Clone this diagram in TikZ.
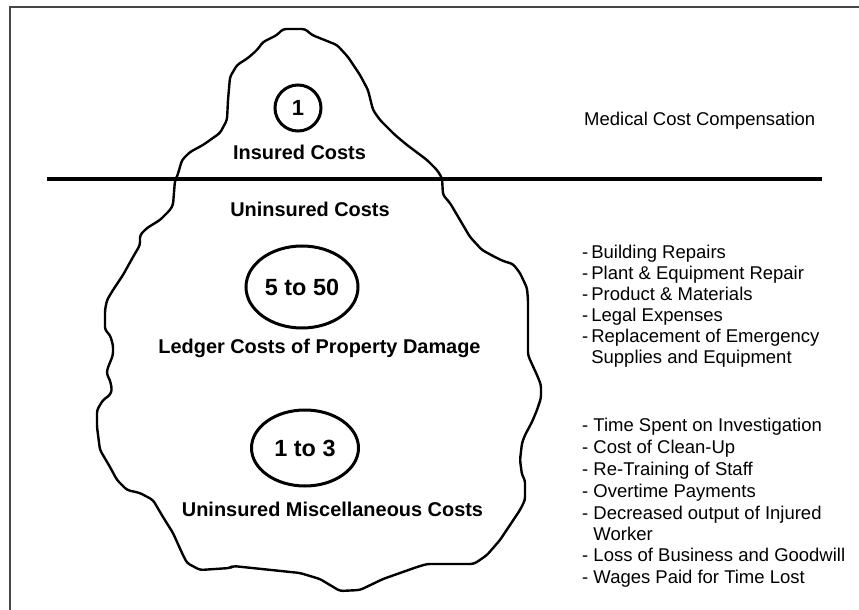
\documentclass[tikz,border=0pt]{standalone}
\usepackage{fontspec}
\setmainfont{Liberation Sans}
\usetikzlibrary{shapes.geometric}

\tikzset{
  frameline/.style={draw=black!72, line width=1.4bp},
  divider/.style={draw=black, line width=3.4bp},
  berg/.style={draw=black, line width=2.4bp, line join=round, line cap=round, rounded corners=3bp},
  ratio/.style={draw=black, line width=3bp, ellipse, inner sep=0pt,
    font=\fontsize{23.5}{26}\selectfont\bfseries},
  heading/.style={anchor=base, inner sep=0pt, font=\fontsize{20}{23}\selectfont\bfseries},
  item/.style={anchor=base west, inner sep=0pt, font=\fontsize{18.55}{21}\selectfont},
}

\begin{document}
\begin{tikzpicture}[x=1bp, y=-1bp]
  \useasboundingbox (0,0) rectangle (859,610);
  \fill[white] (0,0) rectangle (859,610);

  % partial frame: top and left edges
  \draw[frameline] (10,610) -- (10,7) -- (859,7);

  % iceberg outline
  \draw[berg]
    (283,29) -- (305,29) -- (312,35) -- (337,45) -- (348,57) -- (360,75) -- (368,90)
    -- (373,110) -- (380,120) -- (395,135) -- (407,145) -- (427,160) -- (437,170)
    -- (442,178) -- (443,195) -- (450,203) -- (460,220) -- (470,237) -- (482,250)
    -- (493,256) -- (503,261) -- (513,264) -- (520,273) -- (527,288) -- (528,300)
    -- (528,355) -- (531,362) -- (537,375) -- (541,385) -- (541,398) -- (537,410)
    -- (532,422) -- (525,435) -- (522,443) -- (520,460) -- (522,475) -- (525,480)
    -- (525,500) -- (520,510) -- (510,525) -- (500,540) -- (487,555) -- (477,562)
    -- (473,564) -- (427,564) -- (417,567) -- (400,573) -- (383,579) -- (360,590)
    -- (340,591) -- (320,579) -- (300,573) -- (233,566) -- (230,568) -- (200,570)
    -- (187,563) -- (182,553) -- (173,533) -- (163,517) -- (153,500) -- (140,493)
    -- (127,490) -- (117,480) -- (110,467) -- (100,450) -- (97,427) -- (97,410)
    -- (103,400) -- (110,395) -- (112,390) -- (110,380) -- (107,375) -- (107,370)
    -- (113,355) -- (113,345) -- (110,335) -- (105,330) -- (105,310) -- (107,300)
    -- (113,290) -- (123,275) -- (133,257) -- (140,245) -- (140,235) -- (147,228)
    -- (160,220) -- (170,210) -- (173,205) -- (175,180) -- (177,177) -- (182,160)
    -- (190,152) -- (203,145) -- (220,133) -- (227,120) -- (228,100) -- (230,77)
    -- (237,65) -- (248,58) -- (257,50) -- (263,42) -- (277,35) -- cycle;

  % waterline
  \coordinate (wl west) at (47,179);
  \coordinate (wl east) at (822,179);
  \draw[divider] (wl west) -- (wl east);

  % ratios
  \node[ratio, circle, minimum size=46bp, font=\fontsize{22}{24}\selectfont\bfseries]
    (insured ratio) at (298,108) {1};
  \node[ratio, minimum width=112bp, minimum height=82bp] (ledger ratio) at (302,287) {5 to 50};
  \node[ratio, minimum width=107bp, minimum height=76bp] (misc ratio) at (305,448) {1 to 3};

  % headings
  \node[heading] (insured) at (299.5,159.5) {Insured Costs};
  \node[heading] (uninsured) at (310,216.5) {Uninsured Costs};
  \node[heading] (ledger) at (319.5,353.5) {Ledger Costs of Property Damage};
  \node[heading] (misc) at (332.5,516) {Uninsured Miscellaneous Costs};

  % insured cost items
  \node[item] (medical) at (584,125.5) {Medical Cost Compensation};

  % ledger cost items
  \node[item] (l1) at (582,258.5) {-\kern3bp Building Repairs};
  \node[item] (l2) at (582,279) {-\kern3bp Plant \& Equipment Repair};
  \node[item] (l3) at (582,300) {-\kern3bp Product \& Materials};
  \node[item] (l4) at (582,321.5) {-\kern3bp Legal Expenses};
  \node[item] (l5) at (582,342.5) {-\kern3bp Replacement of Emergency};
  \node[item] (l6) at (582,363.5) {\hphantom{-\kern3bp}Supplies and Equipment};

  % miscellaneous cost items
  \node[item] (m1) at (582,431.5) {- Time Spent on Investigation};
  \node[item] (m2) at (582,453.5) {- Cost of Clean-Up};
  \node[item] (m3) at (582,475) {- Re-Training of Staff};
  \node[item] (m4) at (582,497.5) {- Overtime Payments};
  \node[item] (m5) at (582,519) {- Decreased output of Injured};
  \node[item] (m6) at (582,540) {\hphantom{- }Worker};
  \node[item] (m7) at (582,561.5) {- Loss of Business and Goodwill};
  \node[item] (m8) at (582,583.5) {- Wages Paid for Time Lost};
\end{tikzpicture}
\end{document}
